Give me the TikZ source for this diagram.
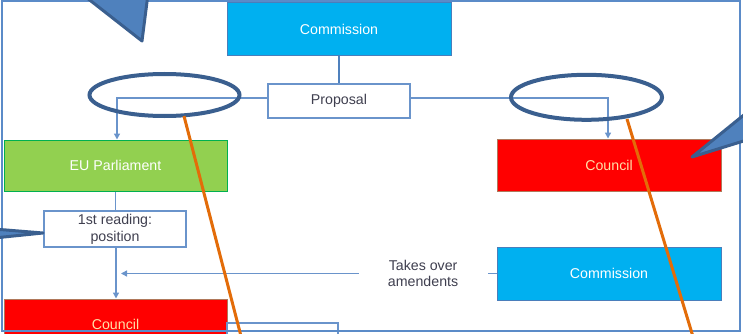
\documentclass[tikz,border=0pt]{standalone}
\usepackage{fontspec}
\setmainfont{Liberation Sans}
\usetikzlibrary{arrows.meta,shapes.geometric}
\definecolor{cyanbox}{HTML}{00B0F0}
\definecolor{cyanedge}{HTML}{4A7EBB}
\definecolor{greenbox}{HTML}{92D050}
\definecolor{greenedge}{HTML}{00B050}
\definecolor{redbox}{HTML}{FF0000}
\definecolor{rededge}{HTML}{B0785A}
\definecolor{framecol}{HTML}{5B8BC8}
\definecolor{conncol}{HTML}{6A94CB}
\definecolor{darkblue}{HTML}{3A5F8F}
\definecolor{calloutfill}{HTML}{4F81BD}
\definecolor{orangeline}{HTML}{E36C09}
\definecolor{darktext}{HTML}{3F3F4F}
\definecolor{councltext}{HTML}{FFE0A8}
\begin{document}
\begin{tikzpicture}[x=1pt,y=-1pt,
  every node/.style={font=\fontsize{14.2}{16.7}\selectfont, inner sep=0pt, align=center},
  cyanstyle/.style={draw=cyanedge, fill=cyanbox, text=white, line width=1pt, minimum width=224pt, minimum height=53pt},
  greenstyle/.style={draw=greenedge, fill=greenbox, text=white, line width=1pt, minimum width=223pt, minimum height=51pt},
  redstyle/.style={draw=rededge, fill=redbox, text=councltext, line width=1pt, minimum width=224pt, minimum height=52pt},
  whitestyle/.style={draw=conncol, fill=white, text=darktext, line width=1.2pt},
  conn/.style={draw=conncol, line width=1.4pt},
  arr/.style={-{Triangle[width=6pt,length=6pt]}},
  ring/.style={draw=darkblue, line width=4pt, ellipse, inner sep=0pt},
  orangestyle/.style={draw=orangeline, line width=3pt},
  calloutstyle/.style={fill=calloutfill, draw=darkblue, line width=3pt, line join=round}
]
\useasboundingbox (0,0) rectangle (743,334);
\clip (0,0) rectangle (743,334);
% boxes
\node[cyanstyle] (comm1) at (339,29.5) {Commission};
\node[whitestyle, minimum width=142pt, minimum height=34pt] (prop) at (339,101) {Proposal};
\node[greenstyle] (ep) at (115.5,165.5) {EU Parliament};
\node[redstyle] (cou1) at (609,165) {Council};
\node[whitestyle, minimum width=142pt, minimum height=36pt] (r1) at (115,229) {1st reading:\\position};
\node[redstyle, minimum width=223pt, minimum height=51pt] (cou2) at (115.5,324.5) {Council};
\node[cyanstyle] (comm2) at (609,273.5) {Commission};
\node[whitestyle, minimum width=111pt, minimum height=44pt] (bbox) at (282.5,345) {};
% connectors
\draw[conn, draw=calloutfill, line width=2pt] (comm1) -- (prop);
\draw[conn, arr] ([yshift=3pt]prop.west) -| ([xshift=1.5pt]ep.north);
\draw[conn, arr] ([yshift=3pt]prop.east) -| ([xshift=-1pt]cou1.north);
\draw[conn] (ep.south) -- (ep.south |- r1.north);
\draw[conn, arr] ([xshift=1pt]r1.south) -- ([xshift=1pt]r1.south |- cou2.north);
\coordinate (tip) at (121,273.5);
\draw[conn, arr] (comm2.west) -- node[pos=0.1955, fill=white, text=darktext, minimum width=129pt, minimum height=36pt] (takes) {Takes over\\amendents} (tip);
% frame
\draw[draw=framecol, line width=2.5pt] (2,1.2) rectangle (740,331);
% rings
\node[ring, minimum width=150pt, minimum height=42pt] (el1) at (164.5,95) {};
\node[ring, minimum width=151pt, minimum height=45pt] (el2) at (586.5,97.3) {};
\coordinate (o1a) at (184,116);
\coordinate (o1b) at (242,340);
\coordinate (o2a) at (627,119);
\coordinate (o2b) at (694,340);
\draw[orangestyle] (o1a) -- (o1b);
\draw[orangestyle] (o2a) -- (o2b);
% callouts
\draw[calloutstyle] (82,-6) -- (142,41) -- (148,-6) -- cycle;
\draw[calloutstyle] (750,110) -- (692,157) -- (750,139) -- cycle;
\draw[calloutstyle] (-6,229) -- (43,233) -- (-6,238) -- cycle;
\end{tikzpicture}
\end{document}
